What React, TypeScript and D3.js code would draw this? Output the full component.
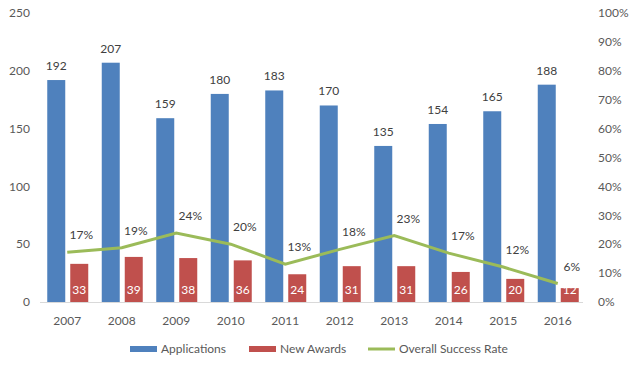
import { useRef, useEffect } from 'react';
import * as d3 from 'd3';

const years = ['2007', '2008', '2009', '2010', '2011', '2012', '2013', '2014', '2015', '2016'];
const applications = [192, 207, 159, 180, 183, 170, 135, 154, 165, 188];
const newAwards = [33, 39, 38, 36, 24, 31, 31, 26, 20, 12];
const successRate = [0.172, 0.188, 0.239, 0.2, 0.131, 0.182, 0.23, 0.169, 0.121, 0.064];
const leftTicks = [0, 50, 100, 150, 200, 250];
const rightTicks = [0, 0.1, 0.2, 0.3, 0.4, 0.5, 0.6, 0.7, 0.8, 0.9, 1];

const BLUE = '#4f81bd';
const RED = '#c0504d';
const GREEN = '#9bbb59';
const TEXT = '#595959';
const FONT = 'Lato, "Liberation Sans", sans-serif';

export default function App() {
  const svgRef = useRef(null);

  useEffect(() => {
    const svg = d3.select(svgRef.current);
    svg.selectAll('*').remove();

    const left = 40;
    const right = 585;
    const top = 13;
    const bottom = 302;

    const x = d3.scaleBand().domain(years).range([left, right]);
    const y = d3.scaleLinear().domain([0, 250]).range([bottom, top]);
    const y2 = d3.scaleLinear().domain([0, 1]).range([bottom, top]);
    const cx = (d) => x(d) + x.bandwidth() / 2;
    const barW = 18;

    const g = svg.append('g').attr('font-family', FONT).attr('font-size', 12);

    // left axis labels
    g.selectAll('.lt')
      .data(leftTicks)
      .enter()
      .append('text')
      .attr('x', 30)
      .attr('y', (d) => y(d))
      .attr('dy', '0.35em')
      .attr('text-anchor', 'end')
      .attr('fill', TEXT)
      .text((d) => d);

    // right axis labels
    g.selectAll('.rt')
      .data(rightTicks)
      .enter()
      .append('text')
      .attr('x', 598)
      .attr('y', (d) => y2(d))
      .attr('dy', '0.35em')
      .attr('fill', TEXT)
      .text((d) => d3.format('.0%')(d));

    // baseline
    g.append('line')
      .attr('x1', left)
      .attr('x2', right - 2)
      .attr('y1', bottom + 0.5)
      .attr('y2', bottom + 0.5)
      .attr('stroke', '#d9d9d9');

    // x labels
    g.selectAll('.xl')
      .data(years)
      .enter()
      .append('text')
      .attr('x', cx)
      .attr('y', 325)
      .attr('text-anchor', 'middle')
      .attr('fill', TEXT)
      .text((d) => d);

    // application bars
    g.selectAll('.app')
      .data(applications)
      .enter()
      .append('rect')
      .attr('x', (d, i) => cx(years[i]) - 20)
      .attr('y', (d) => y(d))
      .attr('width', barW)
      .attr('height', (d) => bottom - y(d))
      .attr('fill', BLUE);

    g.selectAll('.appl')
      .data(applications)
      .enter()
      .append('text')
      .attr('x', (d, i) => cx(years[i]) - 11)
      .attr('y', (d) => y(d) - 10)
      .attr('text-anchor', 'middle')
      .attr('fill', '#404040')
      .text((d) => d);

    // award bars
    g.selectAll('.aw')
      .data(newAwards)
      .enter()
      .append('rect')
      .attr('x', (d, i) => cx(years[i]) + 3)
      .attr('y', (d) => y(d))
      .attr('width', barW)
      .attr('height', (d) => bottom - y(d))
      .attr('fill', RED);

    g.selectAll('.awl')
      .data(newAwards)
      .enter()
      .append('text')
      .attr('x', (d, i) => cx(years[i]) + 12)
      .attr('y', bottom - 8)
      .attr('text-anchor', 'middle')
      .attr('fill', '#ffffff')
      .text((d) => d);

    // success rate line
    const line = d3
      .line()
      .x((d, i) => cx(years[i]))
      .y((d) => y2(d));

    g.append('path')
      .datum(successRate)
      .attr('d', line)
      .attr('fill', 'none')
      .attr('stroke', GREEN)
      .attr('stroke-width', 3);

    g.selectAll('.srl')
      .data(successRate)
      .enter()
      .append('text')
      .attr('x', (d, i) => cx(years[i]) + 14)
      .attr('y', (d) => y2(d) - 13)
      .attr('text-anchor', 'middle')
      .attr('fill', '#404040')
      .text((d) => d3.format('.0%')(d));

    // legend
    const legend = [
      { label: 'Applications', color: BLUE, type: 'rect', x: 130 },
      { label: 'New Awards', color: RED, type: 'rect', x: 249 },
      { label: 'Overall Success Rate', color: GREEN, type: 'line', x: 368 },
    ];
    const lg = g.selectAll('.lg').data(legend).enter().append('g');
    lg.each(function (d) {
      const s = d3.select(this);
      if (d.type === 'rect') {
        s.append('rect').attr('x', d.x).attr('y', 346).attr('width', 27).attr('height', 6).attr('fill', d.color);
      } else {
        s.append('line').attr('x1', d.x).attr('x2', d.x + 27).attr('y1', 349).attr('y2', 349).attr('stroke', d.color).attr('stroke-width', 3);
      }
      s.append('text')
        .attr('x', d.x + 31)
        .attr('y', 349)
        .attr('dy', '0.35em')
        .attr('fill', TEXT)
        .text(d.label);
    });

    return () => {
      svg.selectAll('*').remove();
    };
  }, []);

  return (
    <svg
      ref={svgRef}
      width={635}
      height={369}
      style={{ position: 'absolute', left: 0, top: 0, background: '#fff' }}
    />
  );
}
